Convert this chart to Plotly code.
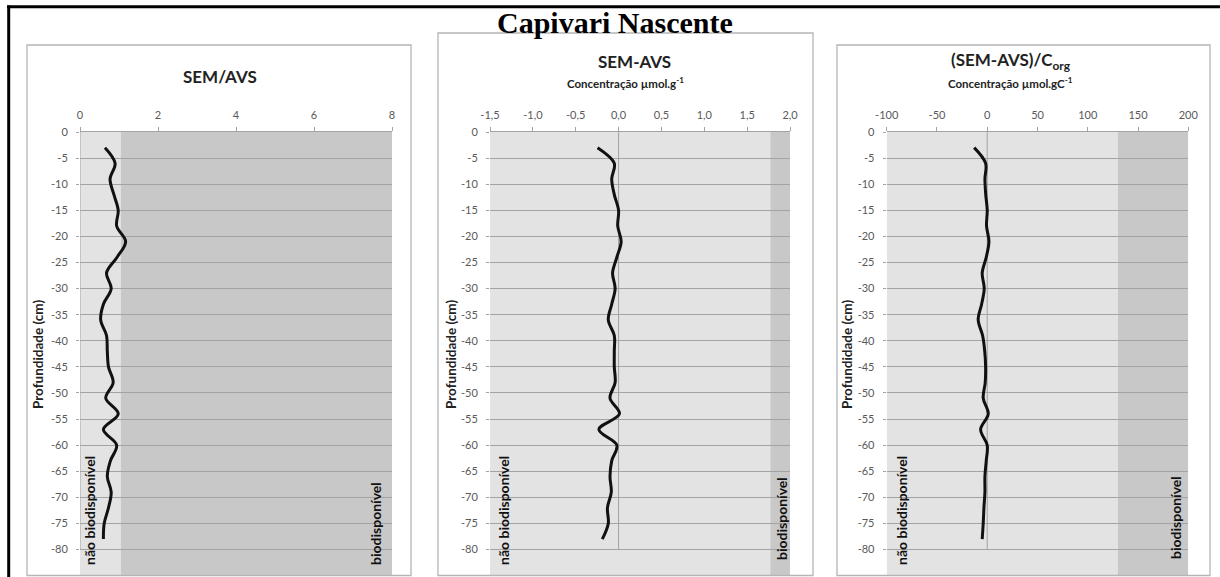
import plotly.graph_objects as go

W, H = 1220, 577

# ---------------- data ----------------
depth = [-3, -6, -9, -12, -15, -18, -21, -24, -27, -30, -33, -36, -39,
         -42, -45, -48, -51, -54, -57, -60, -63, -66, -69, -72, -75, -78]

sem_avs_ratio = [0.64, 0.90, 0.77, 0.87, 0.98, 0.94, 1.17, 0.95, 0.68, 0.80,
                 0.60, 0.53, 0.68, 0.70, 0.73, 0.85, 0.66, 0.98, 0.60, 0.94,
                 0.78, 0.70, 0.80, 0.73, 0.62, 0.60]

sem_minus_avs = [-0.245, -0.05, -0.08, -0.05, 0.00, -0.01, 0.03, -0.02, -0.07, -0.04,
                 -0.08, -0.12, -0.05, -0.05, -0.05, -0.04, -0.10, 0.01, -0.23, -0.02,
                 -0.08, -0.10, -0.085, -0.13, -0.12, -0.19]

sem_avs_corg = [-13.0, -1.6, -2.3, -1.5, 0.0, -0.7, 1.7, -1.0, -5.0, -3.0,
                -5.6, -9.0, -4.6, -2.5, -1.6, -2.0, -4.0, 1.0, -6.6, 0.0,
                -1.0, -2.3, -2.3, -3.3, -4.0, -5.0]

# bioavailability thresholds (start of the "biodisponível" zone)
threshold_ratio = 1.05
threshold_diff = 1.77
threshold_corg = 130

# tick labels
depth_ticks = [0, -5, -10, -15, -20, -25, -30, -35, -40, -45, -50, -55, -60, -65, -70, -75, -80]
depth_ticktext = ["0", "-5", "-10", "-15", "-20", "-25", "-30", "-35", "-40", "-45",
                  "-50", "-55", "-60", "-65", "-70", "-75", "-80"]
x1_ticks = [0, 2, 4, 6, 8]
x1_ticktext = ["0", "2", "4", "6", "8"]
x2_ticks = [-1.5, -1.0, -0.5, 0.0, 0.5, 1.0, 1.5, 2.0]
x2_ticktext = ["-1,5", "-1,0", "-0,5", "0,0", "0,5", "1,0", "1,5", "2,0"]
x3_ticks = [-100, -50, 0, 50, 100, 150, 200]
x3_ticktext = ["-100", "-50", "0", "50", "100", "150", "200"]

x_ranges = [[0, 8], [-1.5, 2.0], [-100, 200]]
y_range = [-84.88, 0]

# ---------------- helpers ----------------
def px(x):
    return x / W

def py(y):
    return 1 - y / H

FONT = "Lato"
TICKFONT = dict(family=FONT, size=11, color="#595959")
GRID = "#A3A3A3"
LIGHT = "#E3E3E3"
DARK = "#C8C8C8"

x_domains = [[px(80), px(392)], [px(490), px(790)], [px(886.7), px(1188.3)]]
y_domain = [2 / H, py(132)]

fig = go.Figure()

series = [sem_avs_ratio, sem_minus_avs, sem_avs_corg]
thresholds = [threshold_ratio, threshold_diff, threshold_corg]
xticks = [(x1_ticks, x1_ticktext), (x2_ticks, x2_ticktext), (x3_ticks, x3_ticktext)]

shapes = []
layout_axes = {}
for i in range(3):
    n = "" if i == 0 else str(i + 1)
    xa, ya = "x" + n, "y" + n
    fig.add_trace(go.Scatter(
        x=series[i], y=depth, mode="lines", xaxis=xa, yaxis=ya,
        line=dict(color="#111111", width=3, shape="spline", smoothing=1.0),
        showlegend=False, hoverinfo="x+y"))
    xmin, xmax = x_ranges[i]
    thr = thresholds[i]
    shapes.append(dict(type="rect", xref=xa, yref=ya + " domain", x0=xmin, x1=thr, y0=0, y1=1,
                       fillcolor=LIGHT, line=dict(width=0), layer="below"))
    shapes.append(dict(type="rect", xref=xa, yref=ya + " domain", x0=thr, x1=xmax, y0=0, y1=1,
                       fillcolor=DARK, line=dict(width=0), layer="below"))
    # vertical axis line crossing at 0
    shapes.append(dict(type="line", xref=xa, yref=ya, x0=0, x1=0, y0=depth_ticks[-1], y1=0,
                       line=dict(color=GRID, width=1), layer="between"))
    tv, tt = xticks[i]
    layout_axes["xaxis" + n] = dict(
        domain=x_domains[i], range=x_ranges[i], anchor=ya, side="top",
        tickvals=tv, ticktext=tt, ticks="outside", ticklen=4, tickcolor=GRID,
        showline=True, linecolor=GRID, linewidth=1, showgrid=False, zeroline=False,
        tickfont=TICKFONT, ticklabelstandoff=4, fixedrange=True, automargin=False)
    layout_axes["yaxis" + n] = dict(
        domain=y_domain, range=y_range, anchor=xa,
        tickvals=depth_ticks, ticktext=depth_ticktext, ticks="outside", ticklen=3,
        tickcolor=GRID, showgrid=True, gridcolor=GRID, gridwidth=1, zeroline=False,
        showline=False, tickfont=TICKFONT, ticklabelstandoff=6, fixedrange=True,
        automargin=False)

# panel boxes
for (x0, x1, y0) in [(27, 411, 45), (438, 813, 33), (837, 1210, 45)]:
    shapes.append(dict(type="rect", xref="paper", yref="paper",
                       x0=px(x0), x1=px(x1), y0=py(575.5), y1=py(y0),
                       line=dict(color="#B5B5B5", width=1.3), fillcolor="rgba(0,0,0,0)",
                       layer="above"))

# outer black frame (top and left)
shapes.append(dict(type="line", xref="paper", yref="paper", x0=px(7), x1=1, y0=py(6.7), y1=py(6.7),
                   line=dict(color="black", width=3), layer="above"))
shapes.append(dict(type="line", xref="paper", yref="paper", x0=px(8.7), x1=px(8.7), y0=0, y1=py(5.5),
                   line=dict(color="black", width=3), layer="above"))

annotations = []

def ann(text, x, y, size, color="#222222", family=FONT, angle=0):
    annotations.append(dict(text=text, xref="paper", yref="paper", x=px(x), y=py(y),
                            xanchor="center", yanchor="middle", showarrow=False,
                            textangle=angle, font=dict(family=family, size=size, color=color)))

ann("<b>Capivari Nascente</b>", 615, 23, 30, color="black", family="Liberation Serif")

ann("<b>SEM/AVS</b>", 220, 77, 17)
ann("<b>SEM-AVS</b>", 634, 61, 17)
ann("<b>Concentração µmol.g<sup>-1</sup></b>", 625, 82, 11.5)
ann("<b>(SEM-AVS)/C<sub>org</sub></b>", 1011, 61, 17)
ann("<b>Concentração µmol.gC<sup>-1</sup></b>", 1010, 82, 11.5)

for x in [38, 451, 847]:
    ann("<b>Profundidade (cm)</b>", x, 355, 13.5, angle=-90)

for x, y in [(89, 511), (503, 511), (901, 511)]:
    ann("<b>não biodisponível</b>", x, y, 14, color="#111111", angle=-90)
for x, y in [(375, 524), (781, 519), (1175, 518)]:
    ann("<b>biodisponível</b>", x, y, 14, color="#111111", angle=-90)

fig.update_layout(
    width=W, height=H,
    margin=dict(l=0, r=0, t=0, b=0, pad=0, autoexpand=False),
    paper_bgcolor="white", plot_bgcolor="rgba(0,0,0,0)",
    shapes=shapes, annotations=annotations, showlegend=False,
    **layout_axes)

fig.write_html(
    "out.html",
    post_script="document.body.style.margin='0';document.body.style.padding='0';"
                "document.body.style.overflow='hidden';"
                "document.documentElement.style.overflow='hidden';")
